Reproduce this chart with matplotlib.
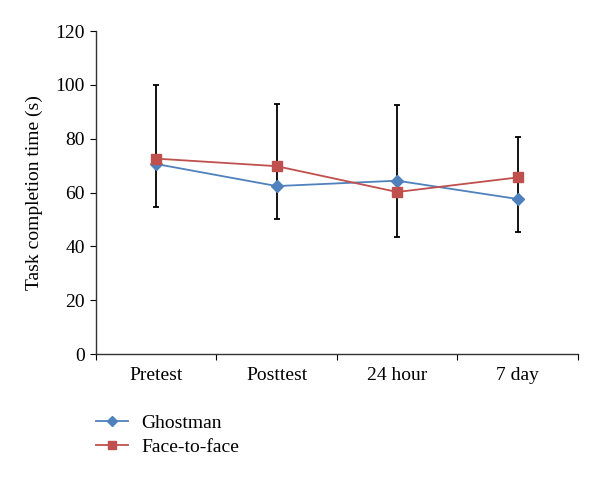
import matplotlib
matplotlib.use("Agg")
from matplotlib import pyplot as plt
from matplotlib.lines import Line2D
import numpy as np

plt.rcParams['font.family'] = ['Liberation Serif', 'DejaVu Serif']

categories = ["Pretest", "Posttest", "24 hour", "7 day"]
ghostman = [70.6, 62.4, 64.4, 57.6]
face_to_face = [72.6, 69.8, 60.2, 65.6]
err_low = [54.6, 50.0, 43.6, 45.4]
err_high = [100.1, 93.0, 92.7, 80.5]

x = np.arange(len(categories))
blue = "#4F81BD"
red = "#C0504D"

fig = plt.figure(figsize=(6.0, 4.78), dpi=100)
ax = fig.add_axes([0.16, 0.2594, 0.803, 0.6756])

# error bars (black) spanning low..high at each time point
ref = np.array(face_to_face)
yerr = [ref - np.array(err_low), np.array(err_high) - ref]
ax.errorbar(x, ref, yerr=yerr, fmt="none", ecolor="black", elinewidth=1.3,
            capsize=2, capthick=1.3, zorder=2)

ax.plot(x, ghostman, color=blue, marker="D", markersize=6, linewidth=1.3,
        label="Ghostman", zorder=3)
ax.plot(x, face_to_face, color=red, marker="s", markersize=7, linewidth=1.3,
        label="Face-to-face", zorder=4)

ax.set_xlim(-0.5, len(categories) - 0.5)
ax.set_ylim(0, 120)
ax.set_yticks(np.arange(0, 121, 20))
ax.set_xticks(np.arange(-0.5, len(categories), 1.0))
ax.set_xticklabels([])
ax.set_xticks(x, minor=True)
ax.set_xticklabels(categories, minor=True)
ax.tick_params(axis="x", which="minor", length=0, pad=9, labelsize=14)
ax.tick_params(axis="x", which="major", length=4, direction="out")
ax.tick_params(axis="y", length=4, direction="out", labelsize=14, pad=4)
ax.spines["top"].set_visible(False)
ax.spines["right"].set_visible(False)
for s in ["left", "bottom"]:
    ax.spines[s].set_linewidth(1.0)
    ax.spines[s].set_color("#333333")
ax.set_ylabel("Task completion time (s)", fontsize=14, labelpad=9)

handles = [Line2D([], [], color=blue, marker="D", markersize=5, linewidth=1.3),
           Line2D([], [], color=red, marker="s", markersize=5.5, linewidth=1.3)]
fig.legend(handles, ["Ghostman", "Face-to-face"], loc="upper left",
           bbox_to_anchor=(0.147, 0.15), frameon=False, fontsize=14,
           handlelength=1.65, handletextpad=0.67, labelspacing=0.36,
           borderaxespad=0)

fig.savefig("out.png", dpi=100)
